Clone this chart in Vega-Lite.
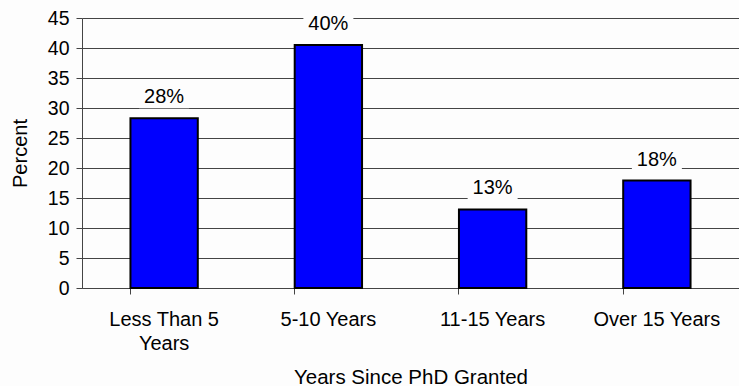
{
  "$schema": "https://vega.github.io/schema/vega-lite/v6.json",
  "width": 657,
  "height": 270,
  "autosize": "none",
  "padding": {"left": 82, "top": 18, "right": 0, "bottom": 98},
  "background": "#fdfdfd",
  "data": {
    "values": [
      {"cat": "Less Than 5 Years", "value": 28.3, "label": "28%"},
      {"cat": "5-10 Years", "value": 40.5, "label": "40%"},
      {"cat": "11-15 Years", "value": 13.1, "label": "13%"},
      {"cat": "Over 15 Years", "value": 17.9, "label": "18%"}
    ]
  },
  "config": {
    "view": {"stroke": null},
    "font": "Liberation Sans"
  },
  "encoding": {
    "x": {
      "field": "cat",
      "type": "nominal",
      "sort": null,
      "scale": {"paddingInner": 0.59, "paddingOuter": 0.295},
      "axis": {
        "title": "Years Since PhD Granted",
        "labelFont": "Liberation Sans",
        "titleFont": "Liberation Sans",
        "labelFontSize": 20,
        "titleFontSize": 20.5,
        "titleFontWeight": "normal",
        "labelColor": "#000",
        "titleColor": "#000",
        "labelAngle": 0,
        "labelPadding": 15,
        "labelBaseline": "top",
        "labelLineHeight": 24,
        "labelExpr": "datum.label == 'Less Than 5 Years' ? ['Less Than 5', 'Years'] : datum.label",
        "bandPosition": 0,
        "tickColor": "#444",
        "tickSize": 6,
        "domainColor": "#444",
        "titlePadding": 14,
        "grid": false
      }
    },
    "y": {
      "field": "value",
      "type": "quantitative",
      "scale": {"domain": [0, 45], "nice": false},
      "axis": {
        "title": "Percent",
        "labelFont": "Liberation Sans",
        "titleFont": "Liberation Sans",
        "labelFontSize": 19.5,
        "titleFontSize": 20,
        "titleFontWeight": "normal",
        "labelColor": "#000",
        "titleColor": "#000",
        "values": [0, 5, 10, 15, 20, 25, 30, 35, 40, 45],
        "labelOverlap": false,
        "grid": true,
        "gridColor": "#444",
        "gridOpacity": 1,
        "tickColor": "#444",
        "tickSize": 6,
        "labelPadding": 7,
        "domainColor": "#444",
        "titlePadding": 17
      }
    }
  },
  "layer": [
    {
      "mark": {"type": "bar", "fill": "#0000ff", "stroke": "#000", "strokeWidth": 2}
    },
    {
      "mark": {"type": "point", "filled": true, "fill": "#fdfdfd", "opacity": 1, "strokeWidth": 0, "shape": "M-1,-0.44L1,-0.44L1,0.44L-1,0.44Z", "size": 2500, "yOffset": -21}
    },
    {
      "mark": {"type": "text", "fontSize": 20, "baseline": "middle", "dy": -21, "color": "#000"},
      "encoding": {"text": {"field": "label"}}
    }
  ]
}
